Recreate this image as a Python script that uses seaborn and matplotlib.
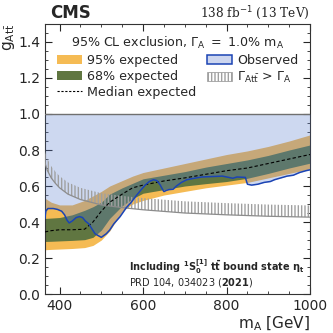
import numpy as np
import pandas as pd
import seaborn as sns
import matplotlib.pyplot as plt
from matplotlib.patches import Patch
from matplotlib.lines import Line2D
from matplotlib.ticker import MultipleLocator

# expected bands
mass = [365, 380, 400, 430, 460, 480, 500, 520, 550, 575, 600, 650, 700, 750, 800, 850, 900, 950, 1000]
exp95_hi = [0.532, 0.51, 0.495, 0.495, 0.52, 0.545, 0.57, 0.60, 0.63, 0.655, 0.675, 0.70, 0.725, 0.75, 0.775, 0.795, 0.82, 0.85, 0.884]
exp68_hi = [0.42, 0.422, 0.425, 0.44, 0.465, 0.485, 0.51, 0.555, 0.59, 0.615, 0.64, 0.66, 0.68, 0.705, 0.725, 0.745, 0.77, 0.80, 0.828]
median = [0.345, 0.352, 0.357, 0.357, 0.36, 0.40, 0.46, 0.51, 0.555, 0.59, 0.605, 0.628, 0.645, 0.665, 0.685, 0.70, 0.725, 0.75, 0.775]
exp68_lo = [0.292, 0.293, 0.295, 0.298, 0.302, 0.315, 0.355, 0.42, 0.49, 0.53, 0.56, 0.58, 0.60, 0.613, 0.625, 0.643, 0.67, 0.70, 0.727]
exp95_lo = [0.246, 0.248, 0.25, 0.253, 0.258, 0.27, 0.30, 0.35, 0.46, 0.50, 0.52, 0.55, 0.57, 0.59, 0.605, 0.62, 0.645, 0.67, 0.695]

# observed limit
mass_obs = [365, 367, 372, 385, 395, 405, 412, 418, 423, 430, 440, 448, 455, 462, 470, 478, 485, 492,
            500, 506, 512, 520, 530, 545, 560, 570, 585, 595, 605, 615, 625, 633, 641, 647, 650, 655,
            662, 672, 680, 692, 705, 720, 740, 760, 790, 805, 815, 825, 845, 850, 860, 875, 890, 905,
            915, 930, 945, 960, 975, 990, 1000]
observed = [0.42, 0.46, 0.475, 0.475, 0.47, 0.46, 0.44, 0.41, 0.395, 0.405, 0.425, 0.43, 0.425, 0.405,
            0.39, 0.36, 0.335, 0.325, 0.315, 0.325, 0.335, 0.355, 0.39, 0.43, 0.48, 0.505, 0.55, 0.578,
            0.605, 0.625, 0.635, 0.63, 0.606, 0.58, 0.569, 0.575, 0.58, 0.582, 0.60, 0.62, 0.635, 0.642,
            0.65, 0.652, 0.655, 0.648, 0.643, 0.65, 0.648, 0.61, 0.605, 0.61, 0.62, 0.625, 0.635, 0.645,
            0.655, 0.66, 0.675, 0.685, 0.69]

# Gamma(A->tt) > Gamma_A boundary
mass_width = [365, 370, 380, 390, 400, 420, 450, 500, 550, 600, 700, 800, 900, 1000]
g_width = [0.73, 0.69, 0.645, 0.615, 0.59, 0.555, 0.525, 0.495, 0.48, 0.468, 0.45, 0.44, 0.432, 0.427]

c95 = "#F5BB54"
c68 = "#607641"
cobs = "#1b44b4"
cobs_fill = "#5c7fd0"

sns.set_style("ticks")
plt.rcParams["font.family"] = ["DejaVu Sans"]
plt.rcParams["hatch.color"] = "#a0a0a0"
plt.rcParams["hatch.linewidth"] = 1.0

fig = plt.figure(figsize=(3.33, 3.33), dpi=100)
ax = fig.add_axes([0.135, 0.117, 0.796, 0.811])

df = pd.DataFrame({"mass": mass, "hi95": exp95_hi, "hi68": exp68_hi, "med": median,
                   "lo68": exp68_lo, "lo95": exp95_lo})
df_obs = pd.DataFrame({"mass": mass_obs, "g": observed})

ax.fill_between(df["mass"], df["lo95"], df["hi95"], color=c95, lw=0, zorder=1)
ax.fill_between(df["mass"], df["lo68"], df["hi68"], color=c68, lw=0, zorder=2)
ax.fill_between(df_obs["mass"], df_obs["g"], 1.0, color=cobs_fill, alpha=0.3, lw=0, zorder=3)
ax.fill_between(mass_width, g_width, np.array(g_width) + 0.065, facecolor="none",
                edgecolor="#a0a0a0", hatch="|||||", lw=0, zorder=4)
sns.lineplot(x=mass_width, y=g_width, ax=ax, color="#8c8c8c", lw=0.9, zorder=4)
sns.lineplot(data=df, x="mass", y="med", ax=ax, color="black", lw=0.8,
             linestyle=(0, (3, 2)), estimator=None, zorder=5)
sns.lineplot(data=df_obs, x="mass", y="g", ax=ax, color=cobs, lw=1.1,
             estimator=None, sort=False, zorder=6)
ax.axhline(1.0, color="#707070", lw=1.0, zorder=6)

ax.set_xlim(365, 1000)
ax.set_ylim(0, 1.5)
ax.xaxis.set_major_locator(MultipleLocator(200))
ax.xaxis.set_minor_locator(MultipleLocator(50))
ax.yaxis.set_major_locator(MultipleLocator(0.2))
ax.yaxis.set_minor_locator(MultipleLocator(0.05))
ax.tick_params(which="both", direction="in", top=True, right=True, labelsize=10)
ax.tick_params(which="major", length=5)
ax.tick_params(which="minor", length=2.5)
for s in ax.spines.values():
    s.set_color("#333333")

ax.set_xlabel(r"m$_{\mathrm{A}}$ [GeV]", fontsize=11, loc="right", labelpad=1)
ax.set_ylabel(r"g$_{\mathrm{At\bar{t}}}$", fontsize=11, loc="top", labelpad=1)

ax.text(0.02, 1.008, "CMS", transform=ax.transAxes, fontsize=12, weight="bold", va="bottom")
ax.text(1.0, 1.008, r"138 fb$^{-1}$ (13 TeV)", transform=ax.transAxes, fontsize=8.7,
        family="DejaVu Serif", ha="right", va="bottom")

ax.text(0.317, 0.1, r"Including $\mathbf{^{1}S_{0}^{[1]}}$ $\mathbf{t\bar{t}}$ bound state $\mathbf{\eta_{t}}$",
        transform=ax.transAxes, fontsize=7.0, weight="bold", va="center", zorder=7)
ax.text(0.317, 0.043, r"PRD 104, 034023 ($\mathbf{2021}$)", transform=ax.transAxes,
        fontsize=7.0, va="center", zorder=7)

handles = [
    Patch(facecolor=c95, edgecolor="none"),
    Patch(facecolor=c68, edgecolor="none"),
    Line2D([], [], color="black", lw=0.8, linestyle=(0, (2, 1.5))),
    Patch(facecolor="#cdd6ef", edgecolor=cobs, lw=1.1),
    Patch(facecolor="white", edgecolor="#a0a0a0", hatch="|||||", lw=0.6),
]
labels = ["95% expected", "68% expected", "Median expected", "Observed",
          r"$\Gamma_{\mathrm{At\bar{t}}}$ > $\Gamma_{\mathrm{A}}$"]
leg = ax.legend(handles, labels, ncol=2, loc="upper center", bbox_to_anchor=(0.5, 1.0),
                frameon=False, fontsize=9.1, title_fontsize=9.1, handlelength=2.0,
                handleheight=0.7, columnspacing=0.8, handletextpad=0.4, labelspacing=0.22,
                title=r"95% CL exclusion, $\Gamma_{\mathrm{A}}\ =$ 1.0% m$_{\mathrm{A}}$")
leg.set_zorder(8)

fig.savefig("out.png", dpi=100)
